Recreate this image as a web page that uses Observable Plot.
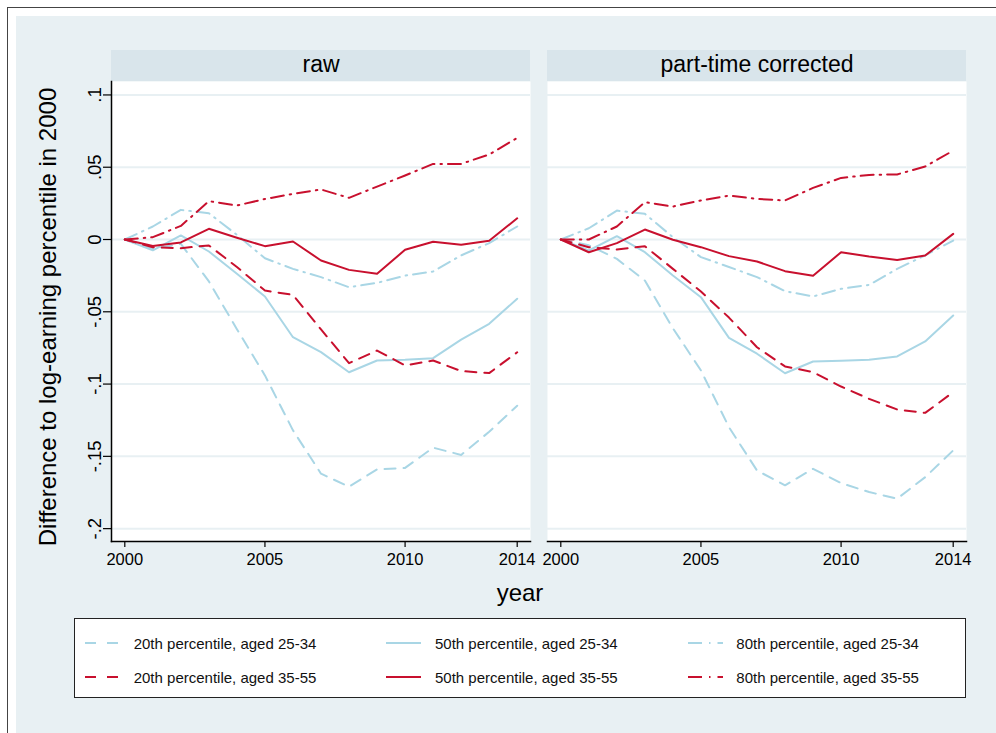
<!DOCTYPE html>
<html><head><meta charset="utf-8">
<script src="https://cdn.jsdelivr.net/npm/d3@7"></script>
<script src="https://cdn.jsdelivr.net/npm/@observablehq/plot@0.6"></script>
<style>
body{margin:0;background:#fff;font-family:"Liberation Sans",Arial,Helvetica,sans-serif;}
#wrap{position:relative;width:996px;height:733px;overflow:hidden;background:#fff;}
.abs{position:absolute;}
#outer{left:7px;top:7px;right:-5px;bottom:-5px;border-left:1.5px solid #444;border-top:1.5px solid #444;}
#bg{left:16px;top:16px;right:0;bottom:0;background:#e8f0f3;}
.strip{top:50px;width:419px;height:31px;background:#d9e5eb;}
#chart{left:0;top:0;}
#ytitle{left:48px;top:317px;transform:translate(-50%,-50%) rotate(-90deg);white-space:nowrap;font-size:24px;color:#000;}
#xtitle{left:520px;top:593px;transform:translate(-50%,-50%);font-size:24px;color:#000;}
#legend{left:74px;top:618px;width:890px;height:78px;background:#fff;border:1.5px solid #222;}
.li{position:absolute;font-size:15px;color:#111;white-space:nowrap;transform:translateY(-50%);}
.ls{position:absolute;transform:translateY(-50%);}
</style></head><body>
<div id="wrap">
  <div id="outer" class="abs"></div>
  <div id="bg" class="abs"></div>
  <div class="abs strip" style="left:111px"></div>
  <div class="abs strip" style="left:547px"></div>
  <div id="chart" class="abs"></div>
  <div id="ytitle" class="abs">Difference to log-earning percentile in 2000</div>
  <div id="xtitle" class="abs">year</div>
  <div id="legend" class="abs"></div>
</div>
<script>
const years = [2000,2001,2002,2003,2004,2005,2006,2007,2008,2009,2010,2011,2012,2013,2014];
const panels = ["raw", "part-time corrected"];
const xTicks = [2000, 2005, 2010, 2014];
const yTicks = [0.1, 0.05, 0, -0.05, -0.1, -0.15, -0.2];
const yTickLabels = [".1", ".05", "0", "-.05", "-.1", "-.15", "-.2"];

// raw
const raw_p20_25_34 = [0,-0.0065,-0.003,-0.029,-0.062,-0.094,-0.132,-0.162,-0.171,-0.159,-0.158,-0.144,-0.149,-0.133,-0.115];
const raw_p50_25_34 = [0,-0.0075,0.0028,-0.0083,-0.0237,-0.0394,-0.0676,-0.0779,-0.0918,-0.0837,-0.0832,-0.0821,-0.0692,-0.0583,-0.041];
const raw_p80_25_34 = [0,0.009,0.0205,0.0182,0.0032,-0.013,-0.0203,-0.026,-0.033,-0.030,-0.025,-0.0221,-0.011,-0.0025,0.009];
const raw_p20_35_55 = [0,-0.0053,-0.006,-0.0041,-0.019,-0.0353,-0.0383,-0.0622,-0.0855,-0.0768,-0.0871,-0.0837,-0.091,-0.0924,-0.078];
const raw_p50_35_55 = [0,-0.0045,-0.002,0.0074,0.0012,-0.0046,-0.0014,-0.0145,-0.021,-0.0237,-0.0071,-0.0016,-0.0037,-0.0009,0.0147];
const raw_p80_35_55 = [0,0.0016,0.0094,0.0265,0.0235,0.028,0.0316,0.0346,0.0288,0.0366,0.0443,0.0523,0.0523,0.0588,0.0703];
// part-time corrected
const pt_p20_25_34 = [0,-0.004,-0.0134,-0.0284,-0.0614,-0.0906,-0.1298,-0.1598,-0.170,-0.1586,-0.1685,-0.1747,-0.1793,-0.1644,-0.1459];
const pt_p50_25_34 = [0,-0.0076,0.0023,-0.0088,-0.0249,-0.0399,-0.068,-0.079,-0.0925,-0.0844,-0.0839,-0.0832,-0.0809,-0.0705,-0.0526];
const pt_p80_25_34 = [0,0.0078,0.020,0.0178,0.0016,-0.0122,-0.019,-0.026,-0.0357,-0.0394,-0.0341,-0.0314,-0.0203,-0.011,-0.0007];
const pt_p20_35_55 = [0,-0.0053,-0.0069,-0.0046,-0.0203,-0.036,-0.054,-0.0745,-0.0878,-0.0918,-0.1017,-0.1102,-0.1176,-0.1199,-0.1056];
const pt_p50_35_55 = [0,-0.0088,-0.0025,0.0069,-0.0002,-0.0053,-0.0115,-0.0152,-0.0219,-0.0251,-0.0088,-0.0118,-0.0141,-0.0111,0.0039];
const pt_p80_35_55 = [0,0,0.009,0.0258,0.0228,0.027,0.0304,0.0281,0.027,0.0357,0.0426,0.0447,0.045,0.0505,0.0615];

const seriesNames = [
  "20th percentile, aged 25-34", "50th percentile, aged 25-34", "80th percentile, aged 25-34",
  "20th percentile, aged 35-55", "50th percentile, aged 35-55", "80th percentile, aged 35-55"
];
const rawValues = [raw_p20_25_34, raw_p50_25_34, raw_p80_25_34, raw_p20_35_55, raw_p50_35_55, raw_p80_35_55];
const ptValues = [pt_p20_25_34, pt_p50_25_34, pt_p80_25_34, pt_p20_35_55, pt_p50_35_55, pt_p80_35_55];

const blue = "#a9d6e5", red = "#c8102e";
const styles = [
  {stroke: blue, dash: "11,8"},
  {stroke: blue, dash: null},
  {stroke: blue, dash: "13,6,1.5,6"},
  {stroke: red, dash: "11,8"},
  {stroke: red, dash: null},
  {stroke: red, dash: "13,6,1.5,6"}
];

const rows = [];
seriesNames.forEach((s, i) => {
  years.forEach((yr, j) => {
    rows.push({panel: panels[0], series: s, year: yr, value: rawValues[i][j]});
    rows.push({panel: panels[1], series: s, year: yr, value: ptValues[i][j]});
  });
});

const lineMarks = seriesNames.map((s, i) => Plot.line(rows.filter(r => r.series === s), {
  x: "year", y: "value", fx: "panel",
  stroke: styles[i].stroke, strokeWidth: 2,
  strokeDasharray: styles[i].dash || undefined
}));

const chart = Plot.plot({
  width: 996, height: 610,
  marginLeft: 111, marginRight: 30, marginTop: 81, marginBottom: 69,
  style: {background: "transparent", fontFamily: "'Liberation Sans', Arial, sans-serif", color: "#000", overflow: "visible"},
  fx: {domain: panels, paddingInner: 0.039, paddingOuter: 0, label: null},
  x: {domain: [2000, 2014], inset: 13.3},
  y: {domain: [-0.2089, 0.1093]},
  marks: [
    Plot.frame({fill: "white", stroke: "none"}),
    Plot.gridY(yTicks, {stroke: "#e8f0f3", strokeOpacity: 1, strokeWidth: 2}),
    Plot.axisFx({anchor: "top", tickSize: 0, tickPadding: 10, fontSize: 23, label: null}),
    Plot.axisY(yTicks, {tickFormat: d => yTickLabels[yTicks.indexOf(d)], tickSize: 8, tickRotate: -90, fontSize: 18.5, label: null, tickPadding: 3, strokeWidth: 1.2}),
    Plot.axisX(xTicks, {tickFormat: d => String(d), tickSize: 6, fontSize: 16.5, label: null, tickPadding: 6, strokeWidth: 1.2}),
    Plot.frame({anchor: "left", facetAnchor: "left", stroke: "#000", strokeWidth: 1.5}),
    Plot.frame({anchor: "bottom", stroke: "#000", strokeWidth: 1.5}),
    ...lineMarks
  ]
});
document.getElementById("chart").appendChild(chart);

// legend
const legend = document.getElementById("legend");
const colX = [[10, 45, 58.7], [311, 346, 360], [612.7, 647.7, 661.3]];
const rowY = [23.7, 58];
seriesNames.forEach((s, i) => {
  const r = Math.floor(i / 3), c = i % 3;
  const [x0, x1, tx] = colX[c];
  const svg = d3.create("svg").attr("class", "ls").attr("width", x1 - x0).attr("height", 6)
    .style("left", x0 + "px").style("top", rowY[r] + "px");
  svg.append("line").attr("x1", 0).attr("x2", x1 - x0).attr("y1", 3).attr("y2", 3)
    .attr("stroke", styles[i].stroke).attr("stroke-width", 2)
    .attr("stroke-dasharray", styles[i].dash === "11,8" ? "11,11" : (styles[i].dash ? "14,7,1.5,7" : null));
  legend.appendChild(svg.node());
  const t = document.createElement("div");
  t.className = "li"; t.textContent = s;
  t.style.left = tx + "px"; t.style.top = rowY[r] + "px";
  legend.appendChild(t);
});
</script>
</body></html>
